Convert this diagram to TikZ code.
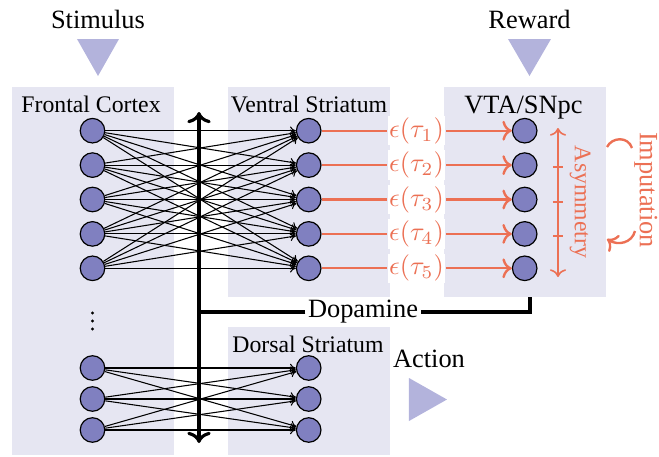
\documentclass[tikz,border=0pt]{standalone}
\usepackage{fontspec}
\setmainfont{Liberation Serif}
\usetikzlibrary{arrows.meta}

\definecolor{regionbg}{RGB}{230,230,242}
\definecolor{tribg}{RGB}{179,179,220}
\definecolor{neuron}{RGB}{128,128,192}
\definecolor{rpe}{RGB}{236,112,84}

\tikzset{
  region/.style={fill=regionbg},
  cue/.style={fill=tribg},
  unit/.style={circle, draw=black, line width=0.45pt, fill=neuron, minimum size=9.3pt, inner sep=0pt},
  fan/.style={line width=0.4pt, -{To[length=2.2pt,width=3.2pt]}},
  spine/.style={line width=1.2pt},
  errline/.style={rpe, line width=0.9pt},
  errlabel/.style={text=rpe, fill=white, inner sep=0.6pt},
  lbl/.style={inner sep=0pt, anchor=base},
  elide/.style={circle, fill=black, inner sep=0pt, minimum size=1.2pt},
}

\begin{document}
\begin{tikzpicture}[x=0.3788pt, y=-0.3788pt]
\useasboundingbox (0,0) rectangle (659,456);

% brain regions
\fill[region] (12,87) rectangle (174,455);
\fill[region] (228,87) rectangle (390,297);
\fill[region] (444,87) rectangle (606,297);
\fill[region] (228,327) rectangle (390,455);

% inputs and output
\fill[cue] (77,39) -- (119,39) -- (98,76) -- cycle;
\fill[cue] (508,39) -- (551,39) -- (529.5,76) -- cycle;
\fill[cue] (409,378) -- (409,421) -- (447,399.5) -- cycle;

\node[lbl] (stim) at (98,28) {Stimulus};
\node[lbl] (rew) at (529.5,28) {Reward};
\node[lbl] (act) at (429,367) {Action};
\node[lbl, font=\small] (fcx) at (91,112) {Frontal Cortex};
\node[lbl, font=\small] (vst) at (309,112) {Ventral Striatum};
\node[lbl] (vta) at (523.5,113) {VTA/SNpc};
\node[lbl, font=\small] (dst) at (308,352) {Dorsal Striatum};

% neurons
\foreach \i in {1,...,5} {
  \pgfmathsetmacro{\yy}{130.7+34.4*(\i-1)}
  \node[unit] (f\i) at (92.5,\yy) {};
  \node[unit] (v\i) at (308.7,\yy) {};
  \node[unit] (s\i) at (524.7,\yy) {};
}
\foreach \i/\yy in {1/368,2/399,3/430} {
  \node[unit] (g\i) at (92.5,\yy) {};
  \node[unit] (d\i) at (308.7,\yy) {};
}
% elided units between the two groups
\foreach \k/\yy in {1/313,2/321,3/329}
  \node[elide] (dot\k) at (92.5,\yy) {};

% all-to-all projections
\foreach \i in {1,...,5}
  \foreach \j in {1,...,5}
    \draw[fan] (f\i) -- (v\j);
\foreach \i in {1,...,3}
  \foreach \j in {1,...,3}
    \draw[fan] (g\i) -- (d\j);

% dopamine signal
\coordinate (spTop) at (199,112);
\coordinate (spBot) at (199,443);
\coordinate (spJoin) at (199,312);
\coordinate (daSrc) at (530,297);
\draw[spine, {To}-{To}] (spBot) -- (spTop);
\node[inner sep=0.8pt] (da) at (363,312) {Dopamine};
\draw[spine] (daSrc) |- (da.east);
\draw[spine] (da.west) -- (spJoin);

% prediction errors
\foreach \i in {1,...,5} {
  \pgfmathsetmacro{\yy}{130.7+34.4*(\i-1)}
  \node[errlabel] (e\i) at (416.5,\yy) {$\epsilon(\tau_{\i})$};
  \draw[errline] (v\i) -- (e\i);
  \draw[errline, -{To}] (e\i) -- (s\i);
}

% asymmetry scale
\coordinate (asTop) at (558,128);
\coordinate (asBot) at (558,277);
\draw[rpe, line width=0.6pt, {To}-{To}] (asBot) -- (asTop);
\foreach \yy in {167,202,236}
  \draw[rpe, line width=0.6pt] (553,\yy) -- (563,\yy);
\node[lbl, rotate=-90, text=rpe, font=\small] (asym) at (575,202) {Asymmetry};

% imputation loop
\node[lbl, rotate=-90, text=rpe] (imp) at (640,190) {Imputation};
\draw[errline] (607,147) .. controls (612,137) and (628,136) .. (632,148);
\draw[errline, -{To}] (635,231) .. controls (632,243) and (618,246) .. (607,239);
\end{tikzpicture}
\end{document}
